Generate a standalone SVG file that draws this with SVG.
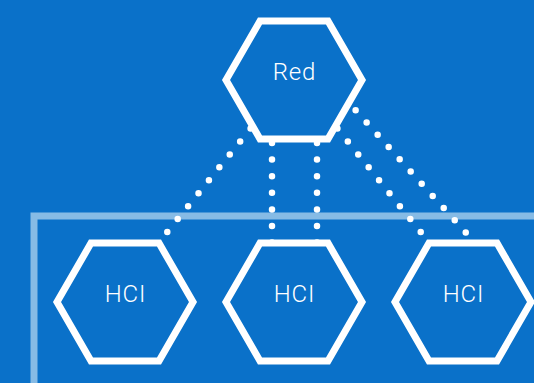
<svg xmlns="http://www.w3.org/2000/svg" width="534" height="383" viewBox="0 0 534 383">
<style>
.hex{fill:#0a71c9;stroke:#fff;stroke-width:7;stroke-linejoin:miter}
.lbl{fill:#fff;font-family:Roboto,"Liberation Sans",sans-serif;font-size:24px;font-weight:300;letter-spacing:0.8px;text-anchor:middle}
.dot{fill:none;stroke:#fff;stroke-width:6.5;stroke-linecap:round;stroke-dasharray:0 16.6}
</style>
<rect width="534" height="383" fill="#0a71c9"/>
<rect x="34" y="216" width="540" height="200" fill="none" stroke="#86bbe5" stroke-width="7"/>
<g id="connectors">
<path class="dot" d="M271.4,102.7 L135.3,271.7"/>
<path class="dot" d="M316.6,102.7 L452.7,271.7"/>
<path class="dot" d="M272,93.2 L272,290.8"/>
<path class="dot" d="M317,93.2 L317,290.8"/>
<path class="dot" d="M333.6,85.9 L487.5,256.7" style="stroke-dasharray:0 16.45"/>
</g>
<g id="red">
<polygon class="hex" points="226,80 260,21.1 328,21.1 362,80 328,138.9 260,138.9"/>
<text class="lbl" x="294.4" y="79.5">Red</text>
</g>
<g id="hci1">
<polygon class="hex" points="57,302 91,243.1 159,243.1 193,302 159,360.9 91,360.9"/>
<text class="lbl" x="125.4" y="301.7">HCI</text>
</g>
<g id="hci2">
<polygon class="hex" points="226,302 260,243.1 328,243.1 362,302 328,360.9 260,360.9"/>
<text class="lbl" x="294.4" y="301.7">HCI</text>
</g>
<g id="hci3">
<polygon class="hex" points="395,302 429,243.1 497,243.1 531,302 497,360.9 429,360.9"/>
<text class="lbl" x="463.4" y="301.7">HCI</text>
</g>
</svg>
